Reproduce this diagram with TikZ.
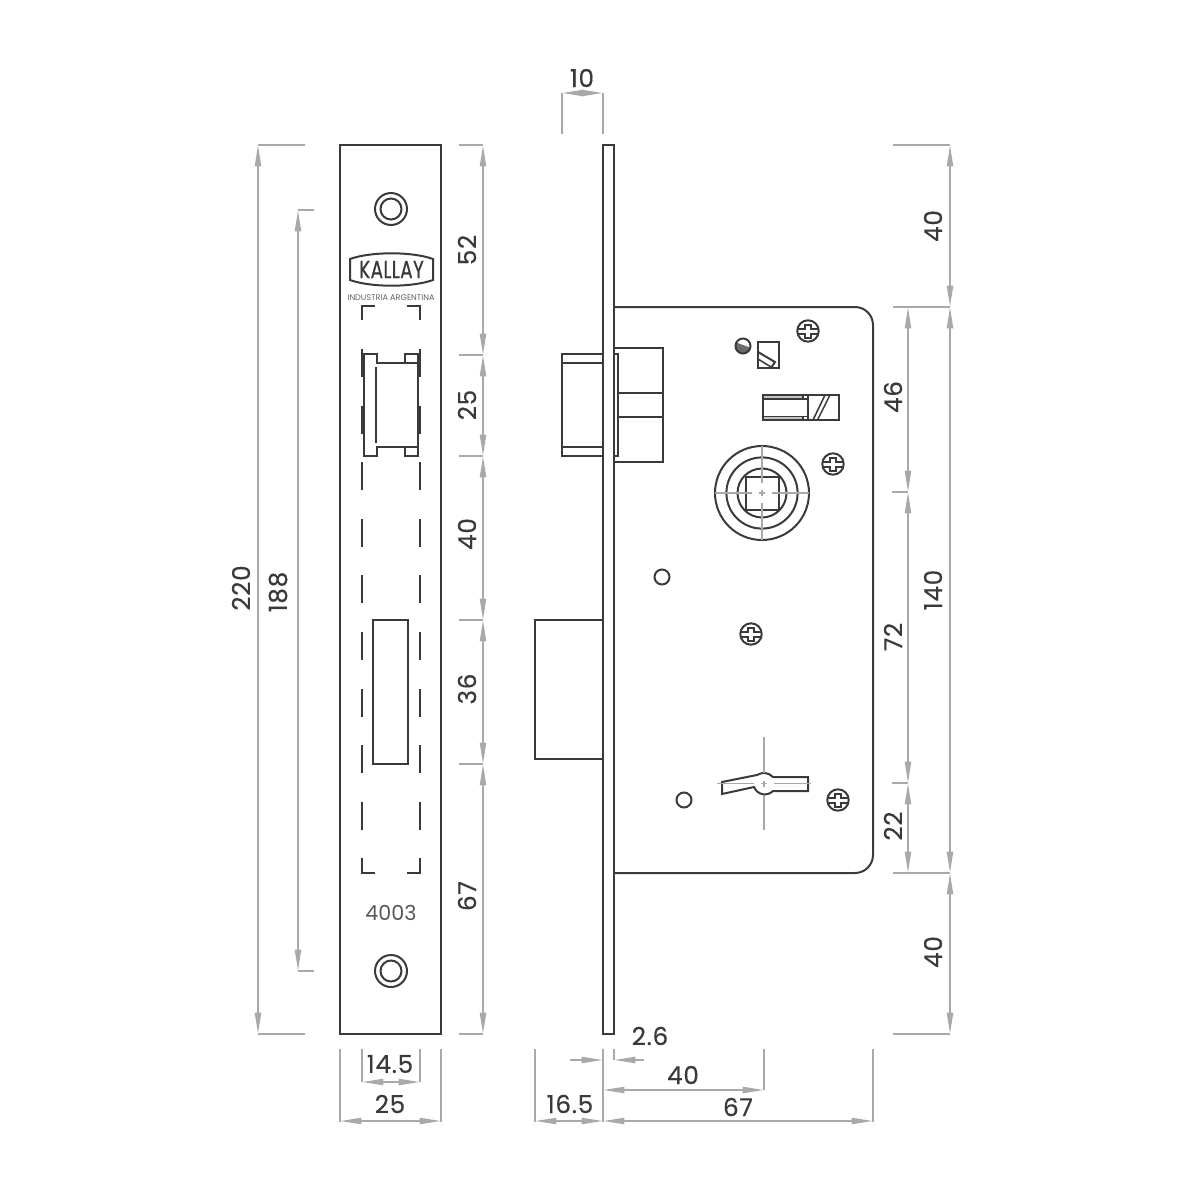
\documentclass[tikz,border=0pt]{standalone}
\usepackage{fontspec}
\setmainfont{Poppins}
\newfontfamily\dimfont{Poppins}[FakeBold=0.35, LetterSpace=3]
\newfontfamily\logofont{Poppins}[FakeBold=0.7, LetterSpace=2]
\usetikzlibrary{arrows.meta}
\definecolor{partcol}{HTML}{3A3A3A}
\definecolor{dimcol}{HTML}{A9A9A9}
\tikzset{
  part/.style={draw=partcol, line width=1.5pt},
  thinpart/.style={draw=partcol, line width=1.15pt},
  extline/.style={draw=dimcol, line width=1.25pt},
  axisline/.style={draw=dimcol, line width=1.3pt},
  dimline/.style={draw=dimcol, line width=1.35pt,
    {Triangle[length=16pt,width=4.6pt]}-{Triangle[length=16pt,width=4.6pt]}},
  dimhead/.style={draw=dimcol, line width=1.35pt, -{Triangle[length=16pt,width=4.6pt]}},
  dimtext/.style={text=partcol, font=\dimfont\fontsize{18.5}{20}\selectfont, inner sep=0pt},
  vtext/.style={dimtext, rotate=90}
}
\begin{document}
\begin{tikzpicture}[x=0.75pt, y=-0.75pt]
  \useasboundingbox (0,0) rectangle (1200,1200);

  % front plate
  \draw[part] (340,145) rectangle (441,1034);
  \draw[part] (373,620) rectangle (408,764);
  \foreach \yh in {209,971} {
    \draw[part] (391,\yh) circle[radius=16];
    \draw[part] (391,\yh) circle[radius=10.5];
  }

  % logo
  \draw[part] (350,259) .. controls (371,251.4) and (412,251.4) .. (433,259)
    -- (433,280) .. controls (412,287.6) and (371,287.6) .. (350,280) -- cycle;
  \node[text=partcol, font=\logofont\fontsize{18.5}{20}\selectfont, inner sep=0pt, xscale=0.75, transform shape] (logotext) at (391.5,269.5) {KALLAY};
  \node[text=partcol!80, font=\fontsize{6.1}{7}\selectfont, inner sep=0pt] (origintext) at (391,298) {INDUSTRIA ARGENTINA};
  \node[text=partcol!85, font=\fontsize{15.5}{17}\selectfont, inner sep=0pt] (modeltext) at (391,913) {4003};

  % hidden outline of the case
  \draw[thinpart] (362,320) -- (362,306) -- (375,306);
  \draw[thinpart] (420,320) -- (420,306) -- (407,306);
  \draw[thinpart] (362,858) -- (362,873) -- (375,873);
  \draw[thinpart] (420,858) -- (420,873) -- (407,873);
  \foreach \yd in {349,405.5,462,519,575,632,689,745,802} {
    \draw[thinpart] (362,\yd) -- (362,\yd+28);
    \draw[thinpart] (420,\yd) -- (420,\yd+28);
  }
  \draw[line width=2.1pt, draw=partcol] (362,350) -- (362,376);
  \draw[line width=2.1pt, draw=partcol] (362,406) -- (362,433);

  % latch opening
  \draw[part] (364,354) -- (377,354) -- (377,363) -- (418,363) -- (418,456) -- (405,456)
    -- (405,447) -- (377,447) -- (377,456) -- (364,456) -- cycle;
  \draw[part] (405,363) -- (405,354) -- (418,354) -- (418,363);
  \draw[part] (405,447) -- (418,447);
  \draw[thinpart] (376,367) -- (376,443);

  % side view, plate and case
  \draw[part] (603,145) rectangle (614,1034);
  \draw[part, rounded corners=13.5pt] (614,307) -- (873,307) -- (873,873) -- (614,873);

  % latch and bolt
  \draw[part] (603,354) -- (562,354) -- (562,456) -- (603,456);
  \draw[part] (562,363) -- (603,363);
  \draw[part] (562,447) -- (603,447);
  \draw[part] (614,348) -- (663,348) -- (663,462) -- (614,462);
  \draw[part] (618,393) -- (663,393);
  \draw[part] (618,417) -- (663,417);
  \draw[thinpart] (614,354) -- (618,354) -- (618,456) -- (614,456);
  \draw[part] (603,620) -- (535,620) -- (535,759) -- (603,759);

  % tumbler and slider
  \begin{scope}
    \clip (743,346) circle[radius=7.5];
    \fill[partcol!75] (732,341) -- (754,349) -- (754,360) -- (732,360) -- cycle;
  \end{scope}
  \draw[part] (743,346) circle[radius=7.5];
  \draw[part] (758,342) rectangle (779,368);
  \draw[part] (758,352) -- (775,362) -- (771,368);
  \draw[thinpart] (758,359) -- (771,367);
  \fill[dimcol!70] (763,395) rectangle (803,399);
  \fill[dimcol!70] (763,416.5) rectangle (803,420);
  \draw[part] (763,395) rectangle (839,420);
  \draw[thinpart] (763,399) -- (807,399);
  \draw[thinpart] (763,416.5) -- (807,416.5);
  \draw[thinpart] (803,395) -- (803,399);
  \draw[thinpart] (803,416.5) -- (803,420);
  \draw[part] (807.5,395) -- (807.5,420);
  \draw[thinpart] (813,420) -- (825,395);
  \draw[thinpart] (817.5,420) -- (830,395);

  % spindle
  \foreach \rs in {47,35.6,24.5} \draw[part] (762,493) circle[radius=\rs];
  \draw[part] (745.5,476.5) rectangle (778.5,509.5);
  \draw[axisline] (715,493) -- (752,493);
  \draw[axisline] (772,493) -- (809,493);
  \draw[axisline] (762,446) -- (762,483);
  \draw[axisline] (762,503) -- (762,540);
  \draw[axisline] (759,493) -- (765,493);
  \draw[axisline] (762,490) -- (762,496);

  % screws and pins
  \foreach \sx/\sy in {808/331,833/464,751/634,838/800} {
    \begin{scope}[shift={(\sx,\sy)}]
      \draw[part] (0,0) circle[radius=10.7];
      \draw[part] (-10.5,-2.5) -- (-3,-2.5) -- (-3,-6.5) -- (3,-6.5) -- (3,-2.5) -- (10.5,-2.5);
      \draw[part] (-10.5,2.5) -- (-3,2.5) -- (-3,6.5) -- (3,6.5) -- (3,2.5) -- (10.5,2.5);
    \end{scope}
  }
  \draw[part] (662,577) circle[radius=7.5];
  \draw[part] (684,800) circle[radius=7.5];

  % keyway
  \draw[part] (773,777) -- (808,777) -- (808,791) -- (773,791)
    .. controls (768,796) and (758,796) .. (754,787) -- (722,794) -- (722,782) -- (757,775)
    .. controls (762,772) and (768,772) .. (773,777) -- cycle;
  \draw[axisline] (717,783.5) -- (754,783.5);
  \draw[axisline] (774,783.5) -- (811,783.5);
  \draw[axisline] (764,737) -- (764,773);
  \draw[axisline] (764,795) -- (764,830);
  \draw[axisline] (761,783.5) -- (767,783.5);
  \draw[axisline] (764,780.5) -- (764,786.5);

  % dimensions left of the plate
  \draw[extline] (258,145) -- (305,145);
  \draw[extline] (258,1034) -- (305,1034);
  \draw[dimline] (258,145) -- (258,1034);
  \node[vtext] (dimheight) at (241,588) {220};
  \draw[extline] (298,210) -- (314,210);
  \draw[extline] (298,971) -- (314,971);
  \draw[dimline] (298,210) -- (298,971);
  \node[vtext] (dimholes) at (278,592) {188};

  % dimensions right of the plate
  \foreach \ya/\yb/\yt/\lab in {145/355/250/52, 355/456/405/25, 456/620/534/40, 620/764/689/36, 764/1034/896/67} {
    \draw[extline] (459,\ya) -- (483,\ya);
    \draw[dimline] (483,\ya) -- (483,\yb);
    \node[vtext] (plate\lab) at (467,\yt) {\lab};
  }
  \draw[extline] (459,1034) -- (483,1034);

  % dimensions right of the case
  \foreach \ya/\yb/\yt/\lab in {145/307/226/40, 307/873/590/140, 873/1034/952/40} {
    \draw[extline] (893,\ya) -- (950,\ya);
    \draw[dimline] (950,\ya) -- (950,\yb);
    \node[vtext] (case\ya) at (933,\yt) {\lab};
  }
  \draw[extline] (893,1034) -- (950,1034);
  \foreach \ya/\yb/\yt/\lab in {307/492/397/46, 492/783/637/72, 783/873/826/22} {
    \draw[dimline] (908,\ya) -- (908,\yb);
    \node[vtext] (inner\lab) at (893,\yt) {\lab};
  }
  \draw[extline] (892,492) -- (908,492);
  \draw[extline] (892,783) -- (908,783);

  % dimensions on top and below
  \draw[extline] (562,93) -- (562,134);
  \draw[extline] (603,93) -- (603,134);
  \draw[dimline] (562,93) -- (603,93);
  \node[dimtext] (dimplate) at (582,78) {10};

  \foreach \xa/\xb/\xt/\yt/\lab in {340/441/390/1104/25, 535/603/570/1104/16.5, 603/873/738/1107/67} {
    \draw[extline] (\xa,1049) -- (\xa,1122);
    \draw[extline] (\xb,1049) -- (\xb,1122);
    \draw[dimline] (\xa,1121) -- (\xb,1121);
    \node[dimtext] at (\xt,\yt) {\lab};
  }
  \draw[extline] (362,1049) -- (362,1082);
  \draw[extline] (420,1049) -- (420,1082);
  \draw[dimline] (362,1082) -- (420,1082);
  \node[dimtext] (dimkey) at (390,1064) {14.5};
  \draw[extline] (764,1049) -- (764,1090);
  \draw[dimline] (603,1090) -- (764,1090);
  \node[dimtext] (dimback) at (683,1075) {40};
  \draw[extline] (614,1049) -- (614,1060);
  \draw[dimhead] (570,1060) -- (603,1060);
  \draw[dimhead] (644,1060) -- (614,1060);
  \node[dimtext] (dimthick) at (650,1036) {2.6};
\end{tikzpicture}
\end{document}
